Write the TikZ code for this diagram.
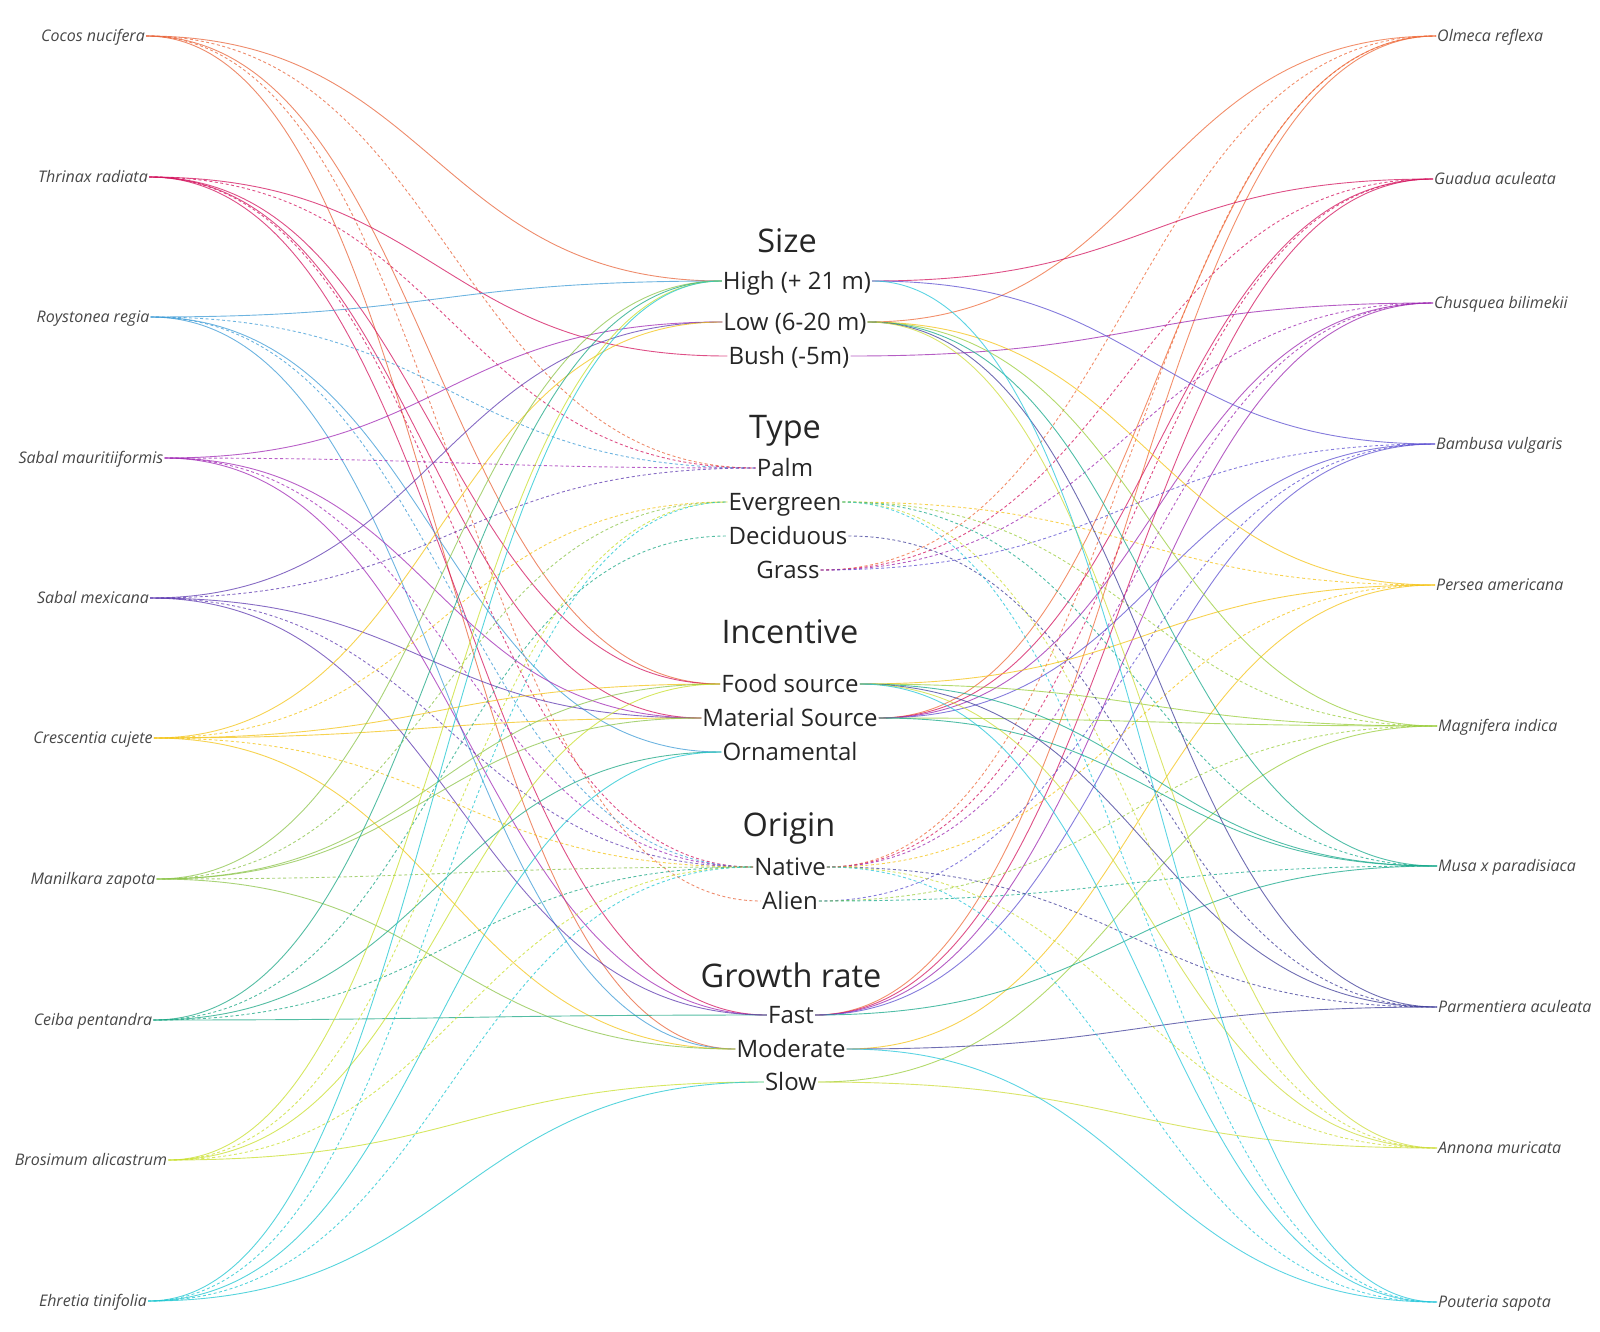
\documentclass[tikz,border=0pt]{standalone}
\usepackage{fontspec}
\setmainfont{Open Sans}
\usetikzlibrary{calc}
\definecolor{cA}{HTML}{E8643A}
\definecolor{cB}{HTML}{D3145E}
\definecolor{cC}{HTML}{3D9BD6}
\definecolor{cD}{HTML}{A12AB5}
\definecolor{cE}{HTML}{5E3AB0}
\definecolor{cF}{HTML}{F3C417}
\definecolor{cG}{HTML}{8CC44A}
\definecolor{cH}{HTML}{1BA784}
\definecolor{cI}{HTML}{C8DF2C}
\definecolor{cJ}{HTML}{1EC6D0}
\definecolor{dA}{HTML}{EE6A3A}
\definecolor{dB}{HTML}{D3145E}
\definecolor{dC}{HTML}{9C27B0}
\definecolor{dD}{HTML}{5C4FD0}
\definecolor{dE}{HTML}{F4C316}
\definecolor{dF}{HTML}{9ACD3C}
\definecolor{dG}{HTML}{16A88A}
\definecolor{dH}{HTML}{3F3D99}
\definecolor{dI}{HTML}{CDDC39}
\definecolor{dJ}{HTML}{26C6DA}
\tikzset{
  sp/.style={font=\fontsize{16}{18}\selectfont\itshape, text=black!72, inner xsep=1pt, inner ysep=0pt, text height=11.4pt, text depth=0pt},
  att/.style={font=\fontsize{24}{27}\selectfont, text=black!85, inner xsep=1pt, inner ysep=0pt, text height=17.1pt, text depth=0pt},
  ttl/.style={font=\fontsize{32.5}{35}\selectfont, text=black!85, inner sep=0pt, text height=23.2pt, text depth=0pt},
  lk/.style={line width=0.9pt, opacity=0.75},
  dl/.style={line width=0.9pt, opacity=0.75, dash pattern=on 3pt off 2.5pt},
}
\newcommand\lnk[3]{\draw[#1] let \p1=(#2), \p2=(#3), \p3=($(#2)!0.5!(#3)$) in (\p1) .. controls (\x3,\y1) and (\x3,\y2) .. (\p2);}
\begin{document}
\begin{tikzpicture}[x=1pt,y=-1pt]
\useasboundingbox (0,0) rectangle (1600,1331);
% left species
\node[sp] (L1) at (93,36) {Cocos nucifera};
\node[sp] (L2) at (93,177) {Thrinax radiata};
\node[sp] (L3) at (93,317) {Roystonea regia};
\node[sp] (L4) at (91,458) {Sabal mauritiiformis};
\node[sp] (L5) at (93,598) {Sabal mexicana};
\node[sp] (L6) at (93,738) {Crescentia cujete};
\node[sp] (L7) at (93,879) {Manilkara zapota};
\node[sp] (L8) at (93,1020) {Ceiba pentandra};
\node[sp] (L9) at (91,1160) {Brosimum alicastrum};
\node[sp] (L10) at (93,1301) {Ehretia tinifolia};
% right species
\node[sp,anchor=west] (R1) at (1436,36) {Olmeca reflexa};
\node[sp,anchor=west] (R2) at (1433,179) {Guadua aculeata};
\node[sp,anchor=west] (R3) at (1433,303) {Chusquea bilimekii};
\node[sp,anchor=west] (R4) at (1435,444) {Bambusa vulgaris};
\node[sp,anchor=west] (R5) at (1435,585) {Persea americana};
\node[sp,anchor=west] (R6) at (1437,726) {Magnifera indica};
\node[sp,anchor=west] (R7) at (1437,866) {Musa x paradisiaca};
\node[sp,anchor=west] (R8) at (1437,1007) {Parmentiera aculeata};
\node[sp,anchor=west] (R9) at (1437,1148) {Annona muricata};
\node[sp,anchor=west] (R10) at (1437,1302) {Pouteria sapota};
% middle
\node[ttl] (tSize) at (787,241) {Size};
\node[att] (High) at (797,281) {High (+ 21 m)};
\node[att] (Low) at (795,322) {Low (6-20 m)};
\node[att] (Bush) at (789,356) {Bush (-5m)};
\node[ttl] (tType) at (785,427) {Type};
\node[att] (Palm) at (785,468) {Palm};
\node[att] (Ever) at (785,502) {Evergreen};
\node[att] (Deci) at (788,536) {Deciduous};
\node[att] (Grass) at (788,570) {Grass};
\node[ttl] (tInc) at (790,632) {Incentive};
\node[att] (Food) at (790,684) {Food source};
\node[att] (Mat) at (790,718) {Material Source};
\node[att] (Orn) at (790,752) {Ornamental};
\node[ttl] (tOri) at (789,825) {Origin};
\node[att] (Nat) at (790,867) {Native};
\node[att] (Ali) at (790,901) {Alien};
\node[ttl] (tGro) at (791,976) {Growth rate};
\node[att] (Fast) at (791,1015) {Fast};
\node[att] (Mod) at (791,1049) {Moderate};
\node[att] (Slow) at (791,1082) {Slow};
% left links
\lnk{lk,cA}{L1.east}{High.west}
\lnk{dl,cA}{L1.east}{Palm.west}
\lnk{lk,cA}{L1.east}{Food.west}
\lnk{dl,cA}{L1.east}{Ali.west}
\lnk{lk,cA}{L1.east}{Mod.west}
\lnk{lk,cB}{L2.east}{Bush.west}
\lnk{dl,cB}{L2.east}{Palm.west}
\lnk{lk,cB}{L2.east}{Food.west}
\lnk{lk,cB}{L2.east}{Mat.west}
\lnk{dl,cB}{L2.east}{Nat.west}
\lnk{lk,cB}{L2.east}{Fast.west}
\lnk{lk,cC}{L3.east}{High.west}
\lnk{dl,cC}{L3.east}{Palm.west}
\lnk{lk,cC}{L3.east}{Orn.west}
\lnk{dl,cC}{L3.east}{Nat.west}
\lnk{lk,cC}{L3.east}{Mod.west}
\lnk{lk,cD}{L4.east}{Low.west}
\lnk{dl,cD}{L4.east}{Palm.west}
\lnk{lk,cD}{L4.east}{Mat.west}
\lnk{dl,cD}{L4.east}{Nat.west}
\lnk{lk,cD}{L4.east}{Fast.west}
\lnk{lk,cE}{L5.east}{Low.west}
\lnk{dl,cE}{L5.east}{Palm.west}
\lnk{lk,cE}{L5.east}{Mat.west}
\lnk{dl,cE}{L5.east}{Nat.west}
\lnk{lk,cE}{L5.east}{Fast.west}
\lnk{lk,cF}{L6.east}{Low.west}
\lnk{dl,cF}{L6.east}{Ever.west}
\lnk{lk,cF}{L6.east}{Food.west}
\lnk{lk,cF}{L6.east}{Mat.west}
\lnk{dl,cF}{L6.east}{Nat.west}
\lnk{lk,cF}{L6.east}{Mod.west}
\lnk{lk,cG}{L7.east}{High.west}
\lnk{dl,cG}{L7.east}{Ever.west}
\lnk{lk,cG}{L7.east}{Food.west}
\lnk{lk,cG}{L7.east}{Mat.west}
\lnk{dl,cG}{L7.east}{Nat.west}
\lnk{lk,cG}{L7.east}{Mod.west}
\lnk{lk,cH}{L8.east}{High.west}
\lnk{dl,cH}{L8.east}{Deci.west}
\lnk{lk,cH}{L8.east}{Orn.west}
\lnk{dl,cH}{L8.east}{Nat.west}
\lnk{lk,cH}{L8.east}{Fast.west}
\lnk{lk,cI}{L9.east}{High.west}
\lnk{dl,cI}{L9.east}{Ever.west}
\lnk{lk,cI}{L9.east}{Food.west}
\lnk{dl,cI}{L9.east}{Nat.west}
\lnk{lk,cI}{L9.east}{Slow.west}
\lnk{lk,cJ}{L10.east}{High.west}
\lnk{dl,cJ}{L10.east}{Ever.west}
\lnk{lk,cJ}{L10.east}{Orn.west}
\lnk{dl,cJ}{L10.east}{Nat.west}
\lnk{lk,cJ}{L10.east}{Slow.west}
% right links
\lnk{lk,dA}{Low.east}{R1.west}
\lnk{dl,dA}{Grass.east}{R1.west}
\lnk{lk,dA}{Mat.east}{R1.west}
\lnk{dl,dA}{Nat.east}{R1.west}
\lnk{lk,dA}{Fast.east}{R1.west}
\lnk{lk,dB}{High.east}{R2.west}
\lnk{dl,dB}{Grass.east}{R2.west}
\lnk{lk,dB}{Mat.east}{R2.west}
\lnk{dl,dB}{Nat.east}{R2.west}
\lnk{lk,dB}{Fast.east}{R2.west}
\lnk{lk,dC}{Bush.east}{R3.west}
\lnk{dl,dC}{Grass.east}{R3.west}
\lnk{lk,dC}{Mat.east}{R3.west}
\lnk{dl,dC}{Nat.east}{R3.west}
\lnk{lk,dC}{Fast.east}{R3.west}
\lnk{lk,dD}{High.east}{R4.west}
\lnk{dl,dD}{Grass.east}{R4.west}
\lnk{lk,dD}{Mat.east}{R4.west}
\lnk{dl,dD}{Ali.east}{R4.west}
\lnk{lk,dD}{Fast.east}{R4.west}
\lnk{lk,dE}{Low.east}{R5.west}
\lnk{dl,dE}{Ever.east}{R5.west}
\lnk{lk,dE}{Food.east}{R5.west}
\lnk{dl,dE}{Nat.east}{R5.west}
\lnk{lk,dE}{Mod.east}{R5.west}
\lnk{lk,dF}{Low.east}{R6.west}
\lnk{dl,dF}{Ever.east}{R6.west}
\lnk{lk,dF}{Food.east}{R6.west}
\lnk{lk,dF}{Mat.east}{R6.west}
\lnk{dl,dF}{Ali.east}{R6.west}
\lnk{lk,dF}{Slow.east}{R6.west}
\lnk{lk,dG}{Low.east}{R7.west}
\lnk{dl,dG}{Ever.east}{R7.west}
\lnk{lk,dG}{Food.east}{R7.west}
\lnk{lk,dG}{Mat.east}{R7.west}
\lnk{dl,dG}{Ali.east}{R7.west}
\lnk{lk,dG}{Fast.east}{R7.west}
\lnk{lk,dH}{Low.east}{R8.west}
\lnk{dl,dH}{Deci.east}{R8.west}
\lnk{lk,dH}{Food.east}{R8.west}
\lnk{dl,dH}{Nat.east}{R8.west}
\lnk{lk,dH}{Mod.east}{R8.west}
\lnk{lk,dI}{Low.east}{R9.west}
\lnk{dl,dI}{Ever.east}{R9.west}
\lnk{lk,dI}{Food.east}{R9.west}
\lnk{dl,dI}{Nat.east}{R9.west}
\lnk{lk,dI}{Slow.east}{R9.west}
\lnk{lk,dJ}{High.east}{R10.west}
\lnk{dl,dJ}{Ever.east}{R10.west}
\lnk{lk,dJ}{Food.east}{R10.west}
\lnk{dl,dJ}{Nat.east}{R10.west}
\lnk{lk,dJ}{Mod.east}{R10.west}
\end{tikzpicture}
\end{document}
